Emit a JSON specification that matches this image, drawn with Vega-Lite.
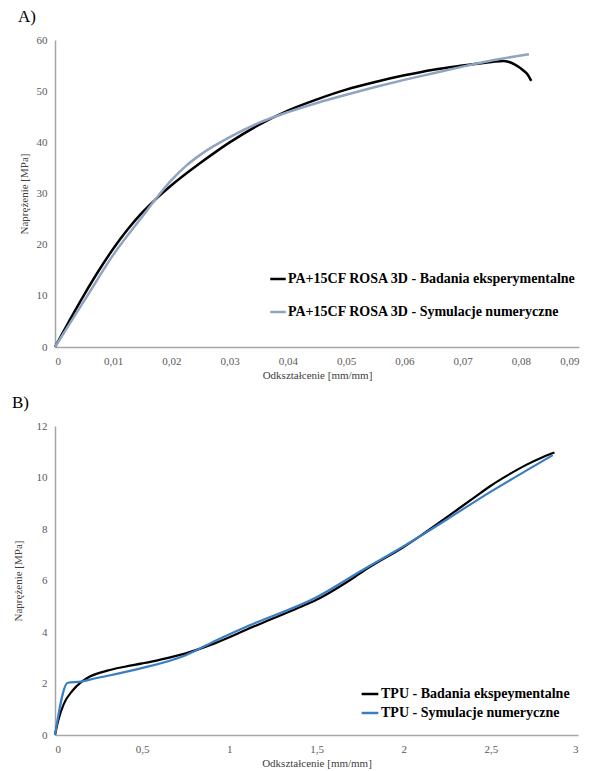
{
  "$schema": "https://vega.github.io/schema/vega-lite/v6.json",
  "padding": {"left": 12, "top": 8, "right": 5, "bottom": 5},
  "background": "white",
  "config": {
    "locale": {"number": {"decimal": ",", "thousands": " ", "grouping": [3], "currency": ["", " zł"]}},
    "font": "'Liberation Serif', 'Times New Roman', serif",
    "view": {"stroke": null},
    "axis": {"grid": false, "ticks": false, "domainColor": "#a6a6a6", "domainWidth": 1.5, "labelFont": "'Liberation Serif', 'Times New Roman', serif", "labelFontSize": 11, "labelColor": "#595959", "titleFont": "'Liberation Serif', 'Times New Roman', serif", "titleFontSize": 11, "titleFontWeight": "normal", "titleColor": "#404040"},
    "legend": {"padding": 0, "labelFont": "'Liberation Serif', 'Times New Roman', serif", "labelFontSize": 14, "labelFontWeight": "bold", "labelColor": "#000000", "labelLimit": 500, "symbolType": "stroke", "symbolStrokeWidth": 2.5, "labelOffset": 1},
    "title": {"font": "'Liberation Serif', 'Times New Roman', serif", "fontSize": 17, "fontWeight": "normal", "anchor": "start", "frame": "bounds", "color": "#000000", "offset": 8}
  },
  "datasets": {
    "A": [
      {"series": "PA+15CF ROSA 3D - Badania eksperymentalne", "x": 0, "y": 0},
      {"series": "PA+15CF ROSA 3D - Badania eksperymentalne", "x": 0.0025, "y": 5.2},
      {"series": "PA+15CF ROSA 3D - Badania eksperymentalne", "x": 0.005, "y": 10.2},
      {"series": "PA+15CF ROSA 3D - Badania eksperymentalne", "x": 0.0075, "y": 14.9},
      {"series": "PA+15CF ROSA 3D - Badania eksperymentalne", "x": 0.01, "y": 19.2},
      {"series": "PA+15CF ROSA 3D - Badania eksperymentalne", "x": 0.0125, "y": 23.0},
      {"series": "PA+15CF ROSA 3D - Badania eksperymentalne", "x": 0.015, "y": 26.3},
      {"series": "PA+15CF ROSA 3D - Badania eksperymentalne", "x": 0.0175, "y": 29.1},
      {"series": "PA+15CF ROSA 3D - Badania eksperymentalne", "x": 0.02, "y": 31.6},
      {"series": "PA+15CF ROSA 3D - Badania eksperymentalne", "x": 0.025, "y": 36.0},
      {"series": "PA+15CF ROSA 3D - Badania eksperymentalne", "x": 0.03, "y": 40.0},
      {"series": "PA+15CF ROSA 3D - Badania eksperymentalne", "x": 0.035, "y": 43.4},
      {"series": "PA+15CF ROSA 3D - Badania eksperymentalne", "x": 0.04, "y": 46.2},
      {"series": "PA+15CF ROSA 3D - Badania eksperymentalne", "x": 0.045, "y": 48.4},
      {"series": "PA+15CF ROSA 3D - Badania eksperymentalne", "x": 0.05, "y": 50.3},
      {"series": "PA+15CF ROSA 3D - Badania eksperymentalne", "x": 0.055, "y": 51.8},
      {"series": "PA+15CF ROSA 3D - Badania eksperymentalne", "x": 0.06, "y": 53.1},
      {"series": "PA+15CF ROSA 3D - Badania eksperymentalne", "x": 0.065, "y": 54.2},
      {"series": "PA+15CF ROSA 3D - Badania eksperymentalne", "x": 0.07, "y": 55.0},
      {"series": "PA+15CF ROSA 3D - Badania eksperymentalne", "x": 0.075, "y": 55.7},
      {"series": "PA+15CF ROSA 3D - Badania eksperymentalne", "x": 0.077, "y": 55.9},
      {"series": "PA+15CF ROSA 3D - Badania eksperymentalne", "x": 0.078, "y": 55.7},
      {"series": "PA+15CF ROSA 3D - Badania eksperymentalne", "x": 0.079, "y": 55.2},
      {"series": "PA+15CF ROSA 3D - Badania eksperymentalne", "x": 0.0805, "y": 54.0},
      {"series": "PA+15CF ROSA 3D - Badania eksperymentalne", "x": 0.0812, "y": 53.2},
      {"series": "PA+15CF ROSA 3D - Badania eksperymentalne", "x": 0.0818, "y": 52.0},
      {"series": "PA+15CF ROSA 3D - Symulacje numeryczne", "x": 0, "y": 0},
      {"series": "PA+15CF ROSA 3D - Symulacje numeryczne", "x": 0.005, "y": 9.0},
      {"series": "PA+15CF ROSA 3D - Symulacje numeryczne", "x": 0.01, "y": 18.0},
      {"series": "PA+15CF ROSA 3D - Symulacje numeryczne", "x": 0.015, "y": 25.5},
      {"series": "PA+15CF ROSA 3D - Symulacje numeryczne", "x": 0.0175, "y": 29.2},
      {"series": "PA+15CF ROSA 3D - Symulacje numeryczne", "x": 0.02, "y": 32.6},
      {"series": "PA+15CF ROSA 3D - Symulacje numeryczne", "x": 0.0225, "y": 35.4},
      {"series": "PA+15CF ROSA 3D - Symulacje numeryczne", "x": 0.025, "y": 37.6},
      {"series": "PA+15CF ROSA 3D - Symulacje numeryczne", "x": 0.03, "y": 41.0},
      {"series": "PA+15CF ROSA 3D - Symulacje numeryczne", "x": 0.035, "y": 43.8},
      {"series": "PA+15CF ROSA 3D - Symulacje numeryczne", "x": 0.04, "y": 45.9},
      {"series": "PA+15CF ROSA 3D - Symulacje numeryczne", "x": 0.045, "y": 47.7},
      {"series": "PA+15CF ROSA 3D - Symulacje numeryczne", "x": 0.05, "y": 49.3},
      {"series": "PA+15CF ROSA 3D - Symulacje numeryczne", "x": 0.055, "y": 50.8},
      {"series": "PA+15CF ROSA 3D - Symulacje numeryczne", "x": 0.06, "y": 52.2},
      {"series": "PA+15CF ROSA 3D - Symulacje numeryczne", "x": 0.065, "y": 53.5},
      {"series": "PA+15CF ROSA 3D - Symulacje numeryczne", "x": 0.07, "y": 54.8},
      {"series": "PA+15CF ROSA 3D - Symulacje numeryczne", "x": 0.075, "y": 56.0},
      {"series": "PA+15CF ROSA 3D - Symulacje numeryczne", "x": 0.0814, "y": 57.2}
    ],
    "B": [
      {"series": "TPU - Badania ekspeymentalne", "x": 0, "y": 0},
      {"series": "TPU - Badania ekspeymentalne", "x": 0.02, "y": 0.6},
      {"series": "TPU - Badania ekspeymentalne", "x": 0.05, "y": 1.2},
      {"series": "TPU - Badania ekspeymentalne", "x": 0.1, "y": 1.72},
      {"series": "TPU - Badania ekspeymentalne", "x": 0.15, "y": 2.05},
      {"series": "TPU - Badania ekspeymentalne", "x": 0.2, "y": 2.27},
      {"series": "TPU - Badania ekspeymentalne", "x": 0.3, "y": 2.5},
      {"series": "TPU - Badania ekspeymentalne", "x": 0.4, "y": 2.65},
      {"series": "TPU - Badania ekspeymentalne", "x": 0.5, "y": 2.78},
      {"series": "TPU - Badania ekspeymentalne", "x": 0.6, "y": 2.92},
      {"series": "TPU - Badania ekspeymentalne", "x": 0.75, "y": 3.17},
      {"series": "TPU - Badania ekspeymentalne", "x": 0.9, "y": 3.52},
      {"series": "TPU - Badania ekspeymentalne", "x": 1.0, "y": 3.8},
      {"series": "TPU - Badania ekspeymentalne", "x": 1.1, "y": 4.1},
      {"series": "TPU - Badania ekspeymentalne", "x": 1.25, "y": 4.52},
      {"series": "TPU - Badania ekspeymentalne", "x": 1.4, "y": 4.95},
      {"series": "TPU - Badania ekspeymentalne", "x": 1.5, "y": 5.25},
      {"series": "TPU - Badania ekspeymentalne", "x": 1.7, "y": 6.05},
      {"series": "TPU - Badania ekspeymentalne", "x": 1.8, "y": 6.5},
      {"series": "TPU - Badania ekspeymentalne", "x": 2.0, "y": 7.3},
      {"series": "TPU - Badania ekspeymentalne", "x": 2.1, "y": 7.75},
      {"series": "TPU - Badania ekspeymentalne", "x": 2.25, "y": 8.47},
      {"series": "TPU - Badania ekspeymentalne", "x": 2.4, "y": 9.2},
      {"series": "TPU - Badania ekspeymentalne", "x": 2.5, "y": 9.68},
      {"series": "TPU - Badania ekspeymentalne", "x": 2.6, "y": 10.1},
      {"series": "TPU - Badania ekspeymentalne", "x": 2.7, "y": 10.48},
      {"series": "TPU - Badania ekspeymentalne", "x": 2.8, "y": 10.8},
      {"series": "TPU - Badania ekspeymentalne", "x": 2.865, "y": 10.97},
      {"series": "TPU - Symulacje numeryczne", "x": 0, "y": 0},
      {"series": "TPU - Symulacje numeryczne", "x": 0.073, "y": 2.03},
      {"series": "TPU - Symulacje numeryczne", "x": 0.15, "y": 2.07},
      {"series": "TPU - Symulacje numeryczne", "x": 0.2, "y": 2.15},
      {"series": "TPU - Symulacje numeryczne", "x": 0.45, "y": 2.52},
      {"series": "TPU - Symulacje numeryczne", "x": 0.75, "y": 3.1},
      {"series": "TPU - Symulacje numeryczne", "x": 0.93, "y": 3.69},
      {"series": "TPU - Symulacje numeryczne", "x": 1.12, "y": 4.27},
      {"series": "TPU - Symulacje numeryczne", "x": 1.5, "y": 5.35},
      {"series": "TPU - Symulacje numeryczne", "x": 1.75, "y": 6.35},
      {"series": "TPU - Symulacje numeryczne", "x": 2.0, "y": 7.33},
      {"series": "TPU - Symulacje numeryczne", "x": 2.25, "y": 8.38},
      {"series": "TPU - Symulacje numeryczne", "x": 2.5, "y": 9.45},
      {"series": "TPU - Symulacje numeryczne", "x": 2.75, "y": 10.45},
      {"series": "TPU - Symulacje numeryczne", "x": 2.855, "y": 10.87}
    ]
  },
  "vconcat": [
    {
      "title": {"text": "A)"},
      "width": 524,
      "height": 307,
      "data": {"name": "A"},
      "mark": {"type": "line", "strokeWidth": 2.5, "interpolate": "monotone"},
      "encoding": {
        "x": {"field": "x", "type": "quantitative", "scale": {"domain": [0, 0.09], "nice": false}, "axis": {"title": "Odkształcenie [mm/mm]", "values": [0, 0.01, 0.02, 0.03, 0.04, 0.05, 0.06, 0.07, 0.08, 0.09], "format": ".2~f", "labelPadding": 8, "titlePadding": 3}},
        "y": {"field": "y", "type": "quantitative", "scale": {"domain": [0, 60], "nice": false}, "axis": {"title": "Naprężenie [MPa]", "values": [0, 10, 20, 30, 40, 50, 60], "labelPadding": 8, "titlePadding": 7}},
        "color": {"field": "series", "type": "nominal", "scale": {"domain": ["PA+15CF ROSA 3D - Badania eksperymentalne", "PA+15CF ROSA 3D - Symulacje numeryczne"], "range": ["#000000", "#8FA4C0"]}, "legend": {"title": null, "orient": "none", "legendX": 214, "legendY": 230, "rowPadding": 17, "symbolSize": 240}}
      }
    },
    {
      "title": {"text": "B)"},
      "width": 523,
      "height": 309,
      "data": {"name": "B"},
      "mark": {"type": "line", "strokeWidth": 2.2, "interpolate": "monotone"},
      "encoding": {
        "x": {"field": "x", "type": "quantitative", "scale": {"domain": [0, 3], "nice": false}, "axis": {"title": "Odkształcenie [mm/mm]", "values": [0, 0.5, 1, 1.5, 2, 2.5, 3], "format": ".1~f", "labelPadding": 8, "titlePadding": 3}},
        "y": {"field": "y", "type": "quantitative", "scale": {"domain": [0, 12], "nice": false}, "axis": {"title": "Naprężenie [MPa]", "values": [0, 2, 4, 6, 8, 10, 12], "labelPadding": 8, "titlePadding": 13}},
        "color": {"field": "series", "type": "nominal", "scale": {"domain": ["TPU - Badania ekspeymentalne", "TPU - Symulacje numeryczne"], "range": ["#000000", "#3A7DC2"]}, "legend": {"title": null, "orient": "none", "legendX": 305, "legendY": 258, "rowPadding": 2, "symbolSize": 280}}
      }
    }
  ],
  "resolve": {"scale": {"color": "independent"}},
  "spacing": 14
}
